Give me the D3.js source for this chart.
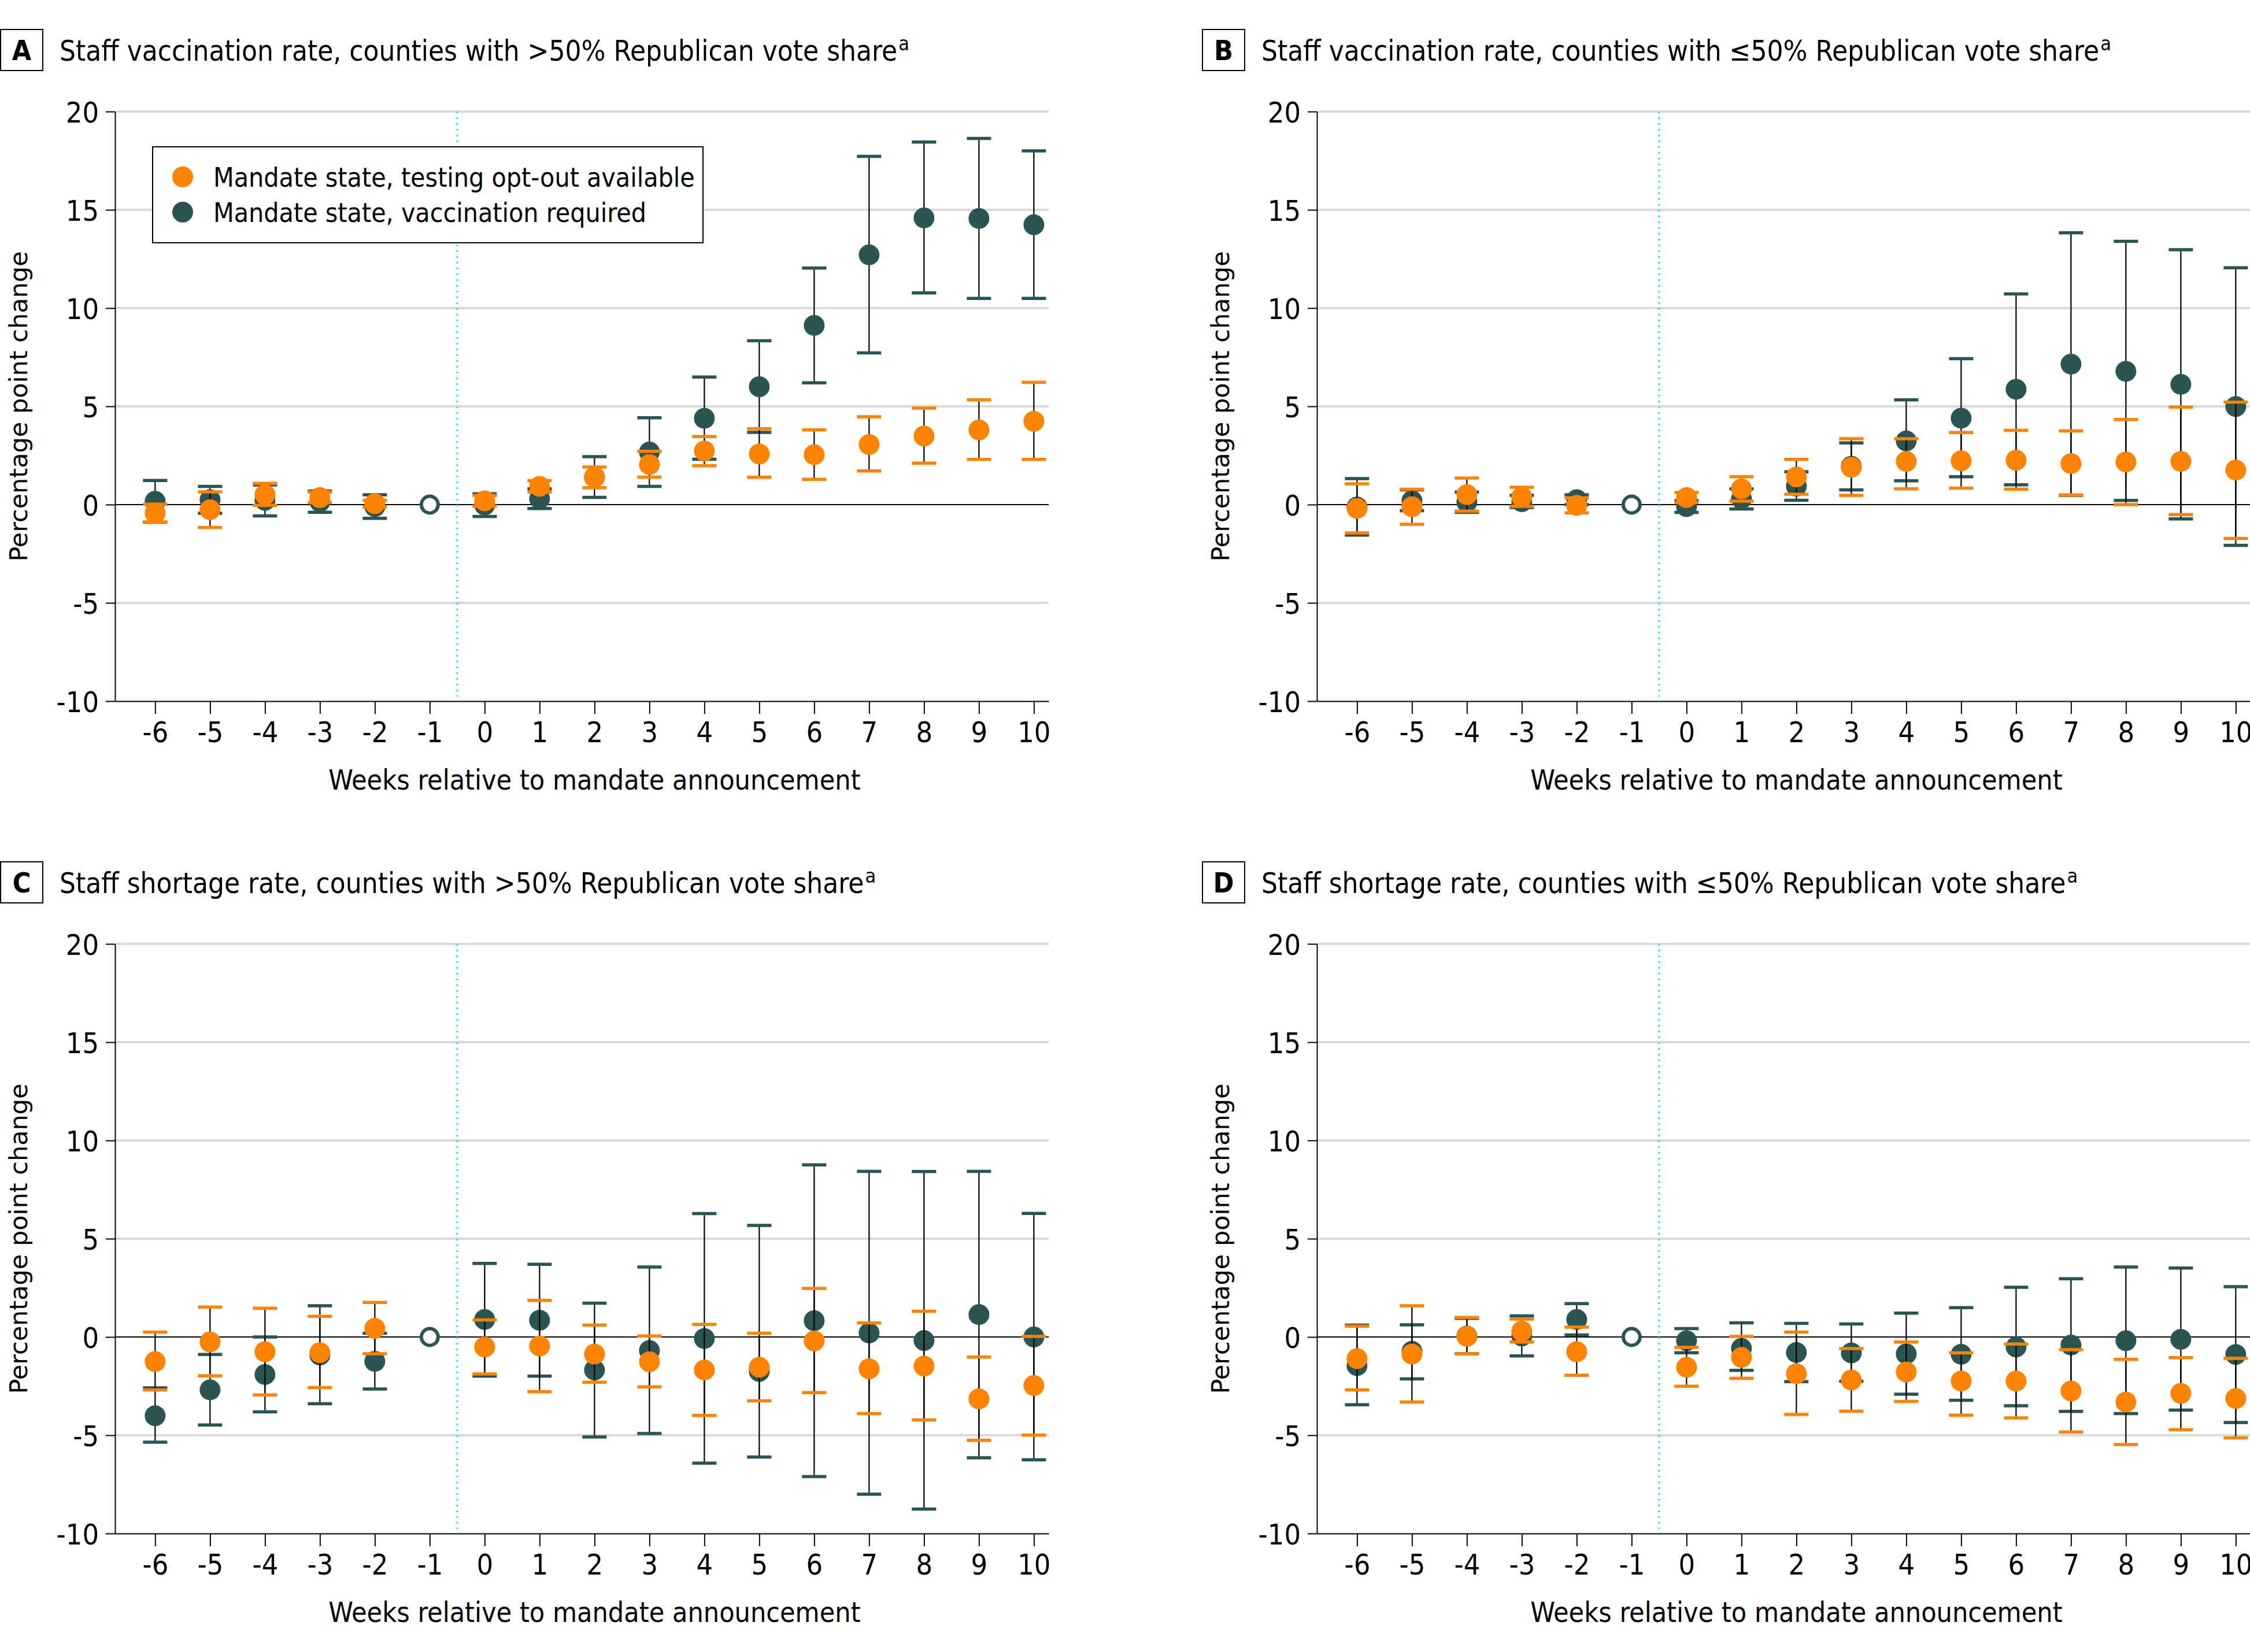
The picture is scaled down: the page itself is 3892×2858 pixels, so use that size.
<!DOCTYPE html>
<html>
<head>
<meta charset="utf-8">
<script src="https://cdn.jsdelivr.net/npm/d3@7"></script>
<style>
  html, body { margin: 0; padding: 0; background: #ffffff; }
  svg { display: block; }
</style>
</head>
<body>
<svg id="chart" width="3892" height="2858"></svg>
<script>
// ---------------- DATA ----------------
const weeks = [-6, -5, -4, -3, -2, 0, 1, 2, 3, 4, 5, 6, 7, 8, 9, 10];
const weekTicks = [-6, -5, -4, -3, -2, -1, 0, 1, 2, 3, 4, 5, 6, 7, 8, 9, 10];
const referenceWeek = -1;
const yTicks = [-10, -5, 0, 5, 10, 15, 20];
const seriesNames = ["Mandate state, testing opt-out available", "Mandate state, vaccination required"];
const panelLetters = ["A", "B", "C", "D"];
const panelTitles = [
  "Staff vaccination rate, counties with >50% Republican vote share",
  "Staff vaccination rate, counties with \u226450% Republican vote share",
  "Staff shortage rate, counties with >50% Republican vote share",
  "Staff shortage rate, counties with \u226450% Republican vote share"
];
const xTitle = "Weeks relative to mandate announcement";
const yTitle = "Percentage point change";

// Panel A: vaccination, >50% Republican
const aOptEst = [-0.43, -0.26, 0.51, 0.36, 0.05, 0.19, 0.93, 1.39, 2.04, 2.73, 2.58, 2.54, 3.06, 3.49, 3.80, 4.24];
const aOptLo  = [-0.88, -1.16, -0.04, 0.10, -0.12, -0.08, 0.64, 0.86, 1.40, 1.98, 1.39, 1.29, 1.71, 2.11, 2.30, 2.30];
const aOptHi  = [0.02, 0.65, 1.08, 0.63, 0.22, 0.46, 1.22, 1.91, 2.71, 3.46, 3.86, 3.80, 4.47, 4.91, 5.33, 6.22];
const aReqEst = [0.17, 0.25, 0.22, 0.15, -0.10, -0.02, 0.30, 1.40, 2.68, 4.39, 6.00, 9.12, 12.71, 14.59, 14.56, 14.24];
const aReqLo  = [-0.90, -0.44, -0.57, -0.39, -0.70, -0.60, -0.20, 0.37, 0.93, 2.31, 3.68, 6.20, 7.72, 10.77, 10.49, 10.49];
const aReqHi  = [1.23, 0.93, 1.00, 0.69, 0.50, 0.55, 0.80, 2.44, 4.42, 6.49, 8.34, 12.04, 17.72, 18.45, 18.63, 18.00];

// Panel B: vaccination, <=50% Republican
const bOptEst = [-0.19, -0.11, 0.51, 0.39, -0.04, 0.36, 0.80, 1.41, 1.90, 2.20, 2.23, 2.26, 2.09, 2.17, 2.20, 1.76];
const bOptLo  = [-1.44, -1.00, -0.33, -0.09, -0.42, 0.10, 0.18, 0.53, 0.47, 0.80, 0.84, 0.79, 0.49, 0.00, -0.51, -1.72];
const bOptHi  = [1.06, 0.78, 1.35, 0.88, 0.34, 0.62, 1.42, 2.30, 3.35, 3.35, 3.67, 3.78, 3.75, 4.33, 4.96, 5.21];
const bReqEst = [-0.12, 0.20, 0.13, 0.15, 0.25, -0.10, 0.29, 0.94, 1.95, 3.24, 4.40, 5.87, 7.15, 6.78, 6.12, 4.99];
const bReqLo  = [-1.55, -0.31, -0.39, -0.15, 0.00, -0.40, -0.22, 0.22, 0.75, 1.21, 1.42, 1.01, 0.47, 0.21, -0.73, -2.07];
const bReqHi  = [1.32, 0.75, 0.64, 0.47, 0.50, 0.20, 0.80, 1.67, 3.14, 5.33, 7.43, 10.72, 13.83, 13.40, 12.97, 12.05];

// Panel C: shortage, >50% Republican
const cOptEst = [-1.25, -0.25, -0.75, -0.80, 0.44, -0.51, -0.46, -0.87, -1.26, -1.68, -1.54, -0.20, -1.62, -1.48, -3.15, -2.47];
const cOptLo  = [-2.70, -1.98, -2.95, -2.57, -0.85, -1.88, -2.79, -2.30, -2.54, -3.99, -3.25, -2.83, -3.90, -4.22, -5.26, -4.99];
const cOptHi  = [0.25, 1.52, 1.46, 1.05, 1.76, 0.87, 1.86, 0.60, 0.05, 0.64, 0.19, 2.47, 0.71, 1.31, -1.02, 0.03];
const cReqEst = [-4.01, -2.69, -1.91, -0.92, -1.24, 0.89, 0.85, -1.68, -0.69, -0.08, -1.75, 0.83, 0.20, -0.18, 1.14, 0.00];
const cReqLo  = [-5.35, -4.48, -3.81, -3.40, -2.65, -1.99, -1.99, -5.09, -4.91, -6.42, -6.11, -7.10, -8.00, -8.76, -6.15, -6.25];
const cReqHi  = [-2.59, -0.89, 0.00, 1.59, 0.19, 3.74, 3.70, 1.72, 3.56, 6.28, 5.68, 8.76, 8.43, 8.42, 8.43, 6.29];

// Panel D: shortage, <=50% Republican
const dOptEst = [-1.10, -0.87, 0.04, 0.30, -0.75, -1.54, -1.04, -1.87, -2.19, -1.78, -2.24, -2.24, -2.75, -3.31, -2.87, -3.13];
const dOptLo  = [-2.69, -3.31, -0.85, -0.26, -1.95, -2.51, -2.10, -3.94, -3.78, -3.28, -3.98, -4.12, -4.84, -5.47, -4.72, -5.13];
const dOptHi  = [0.55, 1.59, 0.99, 0.91, 0.50, -0.53, 0.03, 0.25, -0.59, -0.26, -0.81, -0.36, -0.65, -1.14, -1.05, -1.09];
const dReqEst = [-1.46, -0.73, 0.05, 0.05, 0.89, -0.19, -0.58, -0.79, -0.81, -0.86, -0.88, -0.51, -0.41, -0.19, -0.12, -0.89];
const dReqLo  = [-3.45, -2.13, -0.85, -0.96, 0.10, -0.80, -1.70, -2.27, -2.26, -2.91, -3.22, -3.50, -3.79, -3.90, -3.72, -4.35];
const dReqHi  = [0.60, 0.62, 0.95, 1.07, 1.70, 0.43, 0.72, 0.69, 0.66, 1.21, 1.49, 2.53, 2.96, 3.56, 3.51, 2.56];

// ---------------- STYLE / LAYOUT ----------------
const ORANGE = "#ff8200";
const TEAL = "#2a5553";
const GRID = "#d9d9d9";
const CYAN = "#14e6f0";
const COND = "'Liberation Sans Narrow', 'Arial Narrow', 'DejaVu Sans Condensed', 'Roboto Condensed', sans-serif";
const WIDE = "'DejaVu Sans', Verdana, sans-serif";

const panelOffsets = [[0, 0], [2079, 0], [0, 1440], [2079, 1440]];
const panelData = [
  {opt: [aOptEst, aOptLo, aOptHi], req: [aReqEst, aReqLo, aReqHi]},
  {opt: [bOptEst, bOptLo, bOptHi], req: [bReqEst, bReqLo, bReqHi]},
  {opt: [cOptEst, cOptLo, cOptHi], req: [cReqEst, cReqLo, cReqHi]},
  {opt: [dOptEst, dOptLo, dOptHi], req: [dReqEst, dReqLo, dReqHi]}
];

const svg = d3.select("#chart");
svg.append("rect").attr("width", 3892).attr("height", 2858).attr("fill", "#fff");

const R = 18;
const CAP = 21;

function drawPanel(i) {
  const [ox, oy] = panelOffsets[i];
  const g = svg.append("g");
  const x = d3.scaleLinear().domain([-6.73, 10.27]).range([199 + ox, 1814 + ox]);
  const y = d3.scaleLinear().domain([-10, 20]).range([1213 + oy, 193 + oy]);

  // Title box + letter
  g.append("rect").attr("x", ox + 1).attr("y", oy + 51).attr("width", 73).attr("height", 71)
    .attr("fill", "#fff").attr("stroke", "#000").attr("stroke-width", 2);
  g.append("text").attr("x", ox + 37.5).attr("y", oy + 104).attr("text-anchor", "middle")
    .attr("font-family", COND).attr("font-weight", "bold").attr("font-size", 48).text(panelLetters[i]);
  const t = g.append("text").attr("x", ox + 103).attr("y", oy + 105)
    .attr("font-family", COND).attr("font-size", 49).attr("fill", "#000");
  t.append("tspan").text(panelTitles[i]);
  t.append("tspan").attr("font-size", 34).attr("dx", 2).attr("dy", -18).text("a");

  // Grid lines
  g.append("g").selectAll("line").data(yTicks.filter(v => v !== 0 && v !== -10)).join("line")
    .attr("x1", x.range()[0]).attr("x2", x.range()[1])
    .attr("y1", d => y(d)).attr("y2", d => y(d))
    .attr("stroke", GRID).attr("stroke-width", 4);
  g.append("line").attr("x1", x.range()[0]).attr("x2", x.range()[1])
    .attr("y1", y(0)).attr("y2", y(0)).attr("stroke", "#000").attr("stroke-width", 2);

  // Reference dotted line
  g.append("line").attr("x1", x(-0.5)).attr("x2", x(-0.5))
    .attr("y1", y(20)).attr("y2", y(-10) - 8)
    .attr("stroke", CYAN).attr("stroke-width", 3).attr("stroke-dasharray", "3 7");

  // Axes
  const yAxis = d3.axisLeft(y).tickValues(yTicks).tickSize(16).tickSizeOuter(0).tickPadding(12)
    .tickFormat(d => String(d));
  const ya = g.append("g").attr("transform", `translate(${x.range()[0]},0)`).call(yAxis);
  ya.selectAll("text").attr("font-family", COND).attr("font-size", 50).attr("fill", "#000").attr("dy", "0.36em");
  ya.selectAll("line, path").attr("stroke", "#000").attr("stroke-width", 2);

  const xAxis = d3.axisBottom(x).tickValues(weekTicks).tickSize(22).tickSizeOuter(0).tickPadding(12)
    .tickFormat(d => String(d));
  const xa = g.append("g").attr("transform", `translate(0,${y(-10)})`).call(xAxis);
  xa.selectAll("text").attr("font-family", COND).attr("font-size", 50).attr("fill", "#000")
    .attr("dy", null).attr("y", 71);
  xa.selectAll("line, path").attr("stroke", "#000").attr("stroke-width", 2);

  // Axis titles
  g.append("text").attr("x", x(2)).attr("y", oy + 1366).attr("text-anchor", "middle")
    .attr("font-family", COND).attr("font-size", 48).attr("fill", "#000").text(xTitle);
  g.append("text").attr("transform", `translate(${ox + 47},${oy + 703}) rotate(-90)`)
    .attr("text-anchor", "middle").attr("font-family", WIDE).attr("font-size", 43).attr("fill", "#000").text(yTitle);

  // Series
  const d = panelData[i];
  const series = [
    {key: "req", color: TEAL, vals: d.req},
    {key: "opt", color: ORANGE, vals: d.opt}
  ];
  series.forEach(s => {
    const rows = weeks.map((w, k) => ({w, est: s.vals[0][k], lo: s.vals[1][k], hi: s.vals[2][k]}));
    const eg = g.append("g");
    eg.selectAll("line.v").data(rows).join("line").attr("class", "v")
      .attr("x1", r => x(r.w)).attr("x2", r => x(r.w))
      .attr("y1", r => y(r.lo)).attr("y2", r => y(r.hi))
      .attr("stroke", "#000").attr("stroke-width", 2.2);
    ["lo", "hi"].forEach(k => {
      eg.selectAll("line.c" + k).data(rows).join("line").attr("class", "c" + k)
        .attr("x1", r => x(r.w) - CAP).attr("x2", r => x(r.w) + CAP)
        .attr("y1", r => y(r[k])).attr("y2", r => y(r[k]))
        .attr("stroke", s.color).attr("stroke-width", 5.5);
    });
    eg.selectAll("circle").data(rows).join("circle")
      .attr("cx", r => x(r.w)).attr("cy", r => y(r.est)).attr("r", R)
      .attr("fill", s.color);
  });

  // Reference week hollow marker
  g.append("circle").attr("cx", x(referenceWeek)).attr("cy", y(0)).attr("r", 14.5)
    .attr("fill", "#fff").attr("stroke", TEAL).attr("stroke-width", 6);

  // Legend (panel A only)
  if (i === 0) {
    const lg = g.append("g");
    lg.append("rect").attr("x", 264).attr("y", 254).attr("width", 952).attr("height", 166)
      .attr("fill", "#fff").attr("stroke", "#000").attr("stroke-width", 2);
    const colors = [ORANGE, TEAL];
    seriesNames.forEach((name, k) => {
      const cy = 306 + k * 61;
      lg.append("circle").attr("cx", 316).attr("cy", cy).attr("r", R).attr("fill", colors[k]);
      lg.append("text").attr("x", 369).attr("y", cy + 17).attr("font-family", COND)
        .attr("font-size", 46).attr("fill", "#000").text(name);
    });
  }
}

[0, 1, 2, 3].forEach(drawPanel);
</script>
</body>
</html>
